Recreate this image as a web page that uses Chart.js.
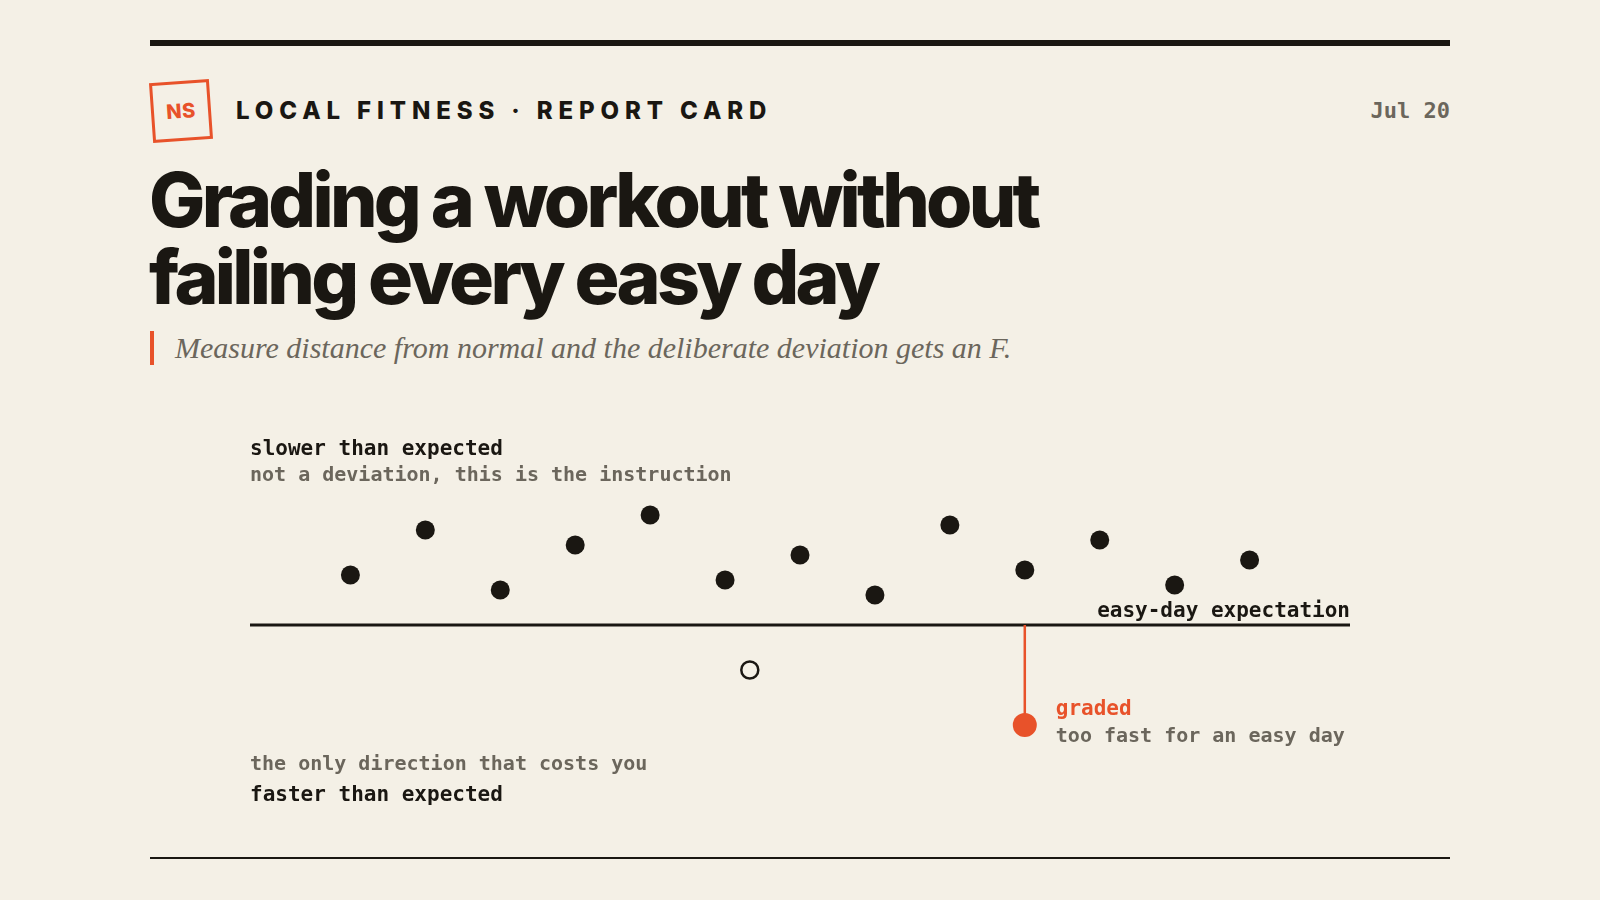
<!DOCTYPE html>
<html>
<head>
<meta charset="utf-8">
<script src="https://cdn.jsdelivr.net/npm/chart.js@4.4.1/dist/chart.umd.min.js"></script>
<style>
  html, body { margin: 0; padding: 0; }
  body { width: 1600px; height: 900px; background: #f4f0e6; position: relative; overflow: hidden; font-family: Inter, sans-serif; color: #1a1712; }
  .rule-top { position: absolute; left: 150px; top: 40px; width: 1300px; height: 6px; background: #1a1712; }
  .rule-bottom { position: absolute; left: 150px; top: 857px; width: 1300px; height: 2px; background: #1a1712; }
  .logo { position: absolute; left: 151px; top: 81px; width: 54px; height: 54px; border: 3px solid #e8522a; transform: rotate(-4deg);
          color: #e8522a; font: 800 20px Inter, sans-serif; display: flex; align-items: center; justify-content: center; letter-spacing: 0.02em; }
  .kicker { position: absolute; left: 236px; top: 96px; font: 800 24px Inter, sans-serif; letter-spacing: 0.245em; line-height: 30px; }
  .date { position: absolute; right: 150px; top: 96px; font: bold 22px "DejaVu Sans Mono", monospace; color: #6b665c; line-height: 30px; }
  h1 { position: absolute; left: 149px; top: 161px; margin: 0; font: 800 75px Inter, sans-serif; letter-spacing: -0.05em; line-height: 77px; }
  .dek-bar { position: absolute; left: 150px; top: 331px; width: 4px; height: 34px; background: #e8522a; }
  .dek { position: absolute; left: 175px; top: 329px; font: italic 30px "Liberation Serif", serif; color: #6b665c; line-height: 38px; }
  .chart-box { position: absolute; left: 250px; top: 420px; width: 1100px; height: 410px; }
</style>
</head>
<body>
<div class="rule-top"></div>
<div class="logo">NS</div>
<div class="kicker">LOCAL FITNESS · REPORT CARD</div>
<div class="date">Jul 20</div>
<h1>Grading a workout without<br>failing every easy day</h1>
<div class="dek-bar"></div>
<div class="dek">Measure distance from normal and the deliberate deviation gets an F.</div>
<div class="chart-box"><canvas id="paceChart" width="1100" height="410"></canvas></div>
<div class="rule-bottom"></div>

<script>
// Easy runs, seconds per mile off the easy-day expectation (positive = slower)
const days = [1, 2, 3, 4, 5, 6, 7, 8, 9, 10, 11, 12, 13];
const slowerBy = [20, 38, 14, 32, 44, 18, 28, 12, 40, 22, 34, 16, 26];

// the one run that came in faster than expected (open marker)
const fastDay = [6.33];
const fastBy = [-18];

// the run the grader flagged
const gradedDay = [10];
const gradedBy = [-40];

const expectation = 0;
const xRange = [-0.34, 14.34];
const yRange = [-82, 82];

const ink = '#1a1712';
const muted = '#6b665c';
const accent = '#e8522a';
const mono = '"DejaVu Sans Mono", monospace';

const labelPlugin = {
  id: 'paceLabels',
  afterDatasetsDraw(chart) {
    const ctx = chart.ctx;
    const area = chart.chartArea;
    const x = chart.scales.x;
    const y = chart.scales.y;
    ctx.save();
    ctx.textBaseline = 'middle';

    // top corner: slower side
    ctx.textAlign = 'left';
    ctx.fillStyle = ink;
    ctx.font = 'bold 21px ' + mono;
    ctx.fillText('slower than expected', area.left, 30);
    ctx.fillStyle = muted;
    ctx.font = 'bold 20px ' + mono;
    ctx.fillText('not a deviation, this is the instruction', area.left, 56);

    // bottom corner: faster side
    ctx.fillText('the only direction that costs you', area.left, 345);
    ctx.fillStyle = ink;
    ctx.font = 'bold 21px ' + mono;
    ctx.fillText('faster than expected', area.left, 376);

    // baseline label
    ctx.textAlign = 'right';
    ctx.fillText('easy-day expectation', area.right, y.getPixelForValue(expectation) - 13);

    // graded callout
    const gx = x.getPixelForValue(gradedDay[0]) + 31;
    const gy = y.getPixelForValue(gradedBy[0]);
    ctx.textAlign = 'left';
    ctx.fillStyle = accent;
    ctx.font = 'bold 21px ' + mono;
    ctx.fillText('graded', gx, gy - 15);
    ctx.fillStyle = muted;
    ctx.font = 'bold 20px ' + mono;
    ctx.fillText('too fast for an easy day', gx, gy + 12);
    ctx.restore();
  }
};

new Chart(document.getElementById('paceChart'), {
  type: 'scatter',
  data: {
    datasets: [
      {
        label: 'graded',
        data: gradedDay.map((d, i) => ({ x: d, y: gradedBy[i] })),
        backgroundColor: accent,
        borderWidth: 0,
        pointRadius: 12,
        order: 1
      },
      {
        label: 'stem',
        type: 'line',
        data: [{ x: gradedDay[0], y: expectation }, { x: gradedDay[0], y: gradedBy[0] }],
        borderColor: accent,
        borderWidth: 2.5,
        pointRadius: 0,
        order: 2
      },
      {
        label: 'easy runs',
        data: days.map((d, i) => ({ x: d, y: slowerBy[i] })),
        backgroundColor: ink,
        borderWidth: 0,
        pointRadius: 9.5,
        order: 3
      },
      {
        label: 'faster',
        data: fastDay.map((d, i) => ({ x: d, y: fastBy[i] })),
        backgroundColor: '#f4f0e6',
        borderColor: ink,
        borderWidth: 2.5,
        pointRadius: 8.5,
        order: 3
      },
      {
        label: 'expectation',
        type: 'line',
        data: xRange.map(v => ({ x: v, y: expectation })),
        borderColor: ink,
        borderWidth: 3,
        pointRadius: 0,
        order: 4
      }
    ]
  },
  options: {
    responsive: false,
    animation: false,
    clip: false,
    layout: { padding: 0, autoPadding: false },
    scales: {
      x: { type: 'linear', min: xRange[0], max: xRange[1], display: false },
      y: { type: 'linear', min: yRange[0], max: yRange[1], display: false }
    },
    plugins: {
      legend: { display: false },
      tooltip: { enabled: false }
    }
  },
  plugins: [labelPlugin]
});
</script>
</body>
</html>
